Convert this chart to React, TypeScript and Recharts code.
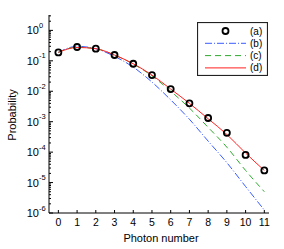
import React from 'react';
import { LineChart, Line, XAxis, YAxis, Legend, Label } from 'recharts';

// photon number distribution
const photonNumbers = [0, 1, 2, 3, 4, 5, 6, 7, 8, 9, 10, 11];
const seriesA = [0.189, 0.284, 0.25, 0.155, 0.08, 0.034, 0.0118, 0.004, 0.00132, 0.00043, 0.000081, 0.000025];
const seriesB = [0.19, 0.3, 0.25, 0.14, 0.062, 0.02, 0.0052, 0.0012, 0.00023, 0.000045, 0.0000074, 0.00000125];
const seriesC = [0.19, 0.28, 0.25, 0.155, 0.079, 0.032, 0.01, 0.0028, 0.00065, 0.000145, 0.000025, 0.000005];
const seriesD = [0.19, 0.275, 0.25, 0.155, 0.08, 0.034, 0.0118, 0.004, 0.00125, 0.00038, 0.000093, 0.000025];

const xTicks = [0, 1, 2, 3, 4, 5, 6, 7, 8, 9, 10, 11];
const decadeExponents = [-6, -5, -4, -3, -2, -1, 0];
const minorMultipliers = [2, 3, 4, 5, 6, 7, 8, 9];

const yTicks: number[] = [];
decadeExponents.forEach((e) => {
  yTicks.push(Math.pow(10, e));
  if (e < 0) minorMultipliers.forEach((m) => yTicks.push(m * Math.pow(10, e)));
});
yTicks.push(2, 3);

const data = photonNumbers.map((n, i) => ({
  n,
  a: seriesA[i],
  b: seriesB[i],
  c: seriesC[i],
  d: seriesD[i],
}));

const FONT = '"Liberation Sans", Arial, Helvetica, sans-serif';

const isDecade = (v: number) => Math.abs(Math.log10(v) - Math.round(Math.log10(v))) < 1e-9;

const LeftTick = (props: any) => {
  const { x, y, payload } = props;
  const v = payload.value;
  const major = isDecade(v);
  const exp = Math.round(Math.log10(v));
  return (
    <g>
      <line x1={x} x2={x + (major ? 4 : 2)} y1={y} y2={y} stroke="#000" strokeWidth={1} />
      {major && (
        <g>
          <text x={x - 10} y={y + 4} textAnchor="end" fontSize={11} fontFamily={FONT} fill="#000">10</text>
          <text x={x - 10} y={y - 2.5} textAnchor="start" fontSize={7.5} fontFamily={FONT} fill="#000">{exp}</text>
        </g>
      )}
    </g>
  );
};

const RightTick = (props: any) => {
  const { x, y, payload } = props;
  const major = isDecade(payload.value);
  return <line x1={x} x2={x - (major ? 4 : 2)} y1={y} y2={y} stroke="#000" strokeWidth={1} />;
};

const BottomTick = (props: any) => {
  const { x, y, payload } = props;
  return (
    <g>
      <line x1={x} x2={x} y1={y} y2={y - 3} stroke="#000" strokeWidth={1} />
      <text x={x} y={y + 12.5} textAnchor="middle" fontSize={10.5} fontFamily={FONT} fill="#000">{payload.value}</text>
    </g>
  );
};

const TopTick = (props: any) => {
  const { x, y } = props;
  return <line x1={x} x2={x} y1={y} y2={y + 3} stroke="#000" strokeWidth={1} />;
};

const LegendBox = (props: any) => {
  const items = props.payload || [];
  return (
    <svg width={71} height={54} style={{ display: 'block' }}>
      <rect x={0.5} y={0.5} width={70} height={53} fill="#fff" stroke="#222" strokeWidth={1.2} />
      {items.map((it: any, i: number) => {
        const cy = 9 + i * 12.3;
        const p = it.payload || {};
        return (
          <g key={i}>
            {p.stroke === 'none' ? (
              <circle cx={28.5} cy={cy} r={3} fill="none" stroke="#000" strokeWidth={1.8} />
            ) : (
              <line x1={8} x2={49} y1={cy} y2={cy} stroke={p.stroke} strokeWidth={1} strokeDasharray={p.strokeDasharray} />
            )}
            <text x={53} y={cy + 3.5} fontSize={10} fontFamily={FONT} fill="#000">{it.value}</text>
          </g>
        );
      })}
    </svg>
  );
};

export default function App() {
  return (
    <div style={{ position: 'absolute', left: 0, top: 0, width: 284, height: 249, background: '#fff' }}>
      <LineChart width={284} height={249} data={data} margin={{ top: 15, right: 15, bottom: 0, left: 0 }}>
        <XAxis
          dataKey="n"
          type="number"
          domain={[-0.5, 11.25]}
          ticks={xTicks}
          interval={0}
          allowDataOverflow
          height={36}
          tickSize={0}
          tickMargin={0}
          tickLine={false}
          axisLine={{ stroke: '#000', strokeWidth: 1 }}
          tick={<BottomTick />}
        >
          <Label
            content={(p: any) => {
              const vb = p.viewBox;
              return (
                <text x={vb.x + vb.width / 2 + 2} y={242} textAnchor="middle" fontSize={11} fontFamily={FONT} fill="#000">
                  Photon number
                </text>
              );
            }}
          />
        </XAxis>
        <XAxis
          xAxisId="top"
          orientation="top"
          dataKey="n"
          type="number"
          domain={[-0.5, 11.25]}
          ticks={xTicks}
          interval={0}
          allowDataOverflow
          height={0}
          tickSize={0}
          tickMargin={0}
          tickLine={false}
          axisLine={{ stroke: '#000', strokeWidth: 1 }}
          tick={<TopTick />}
        />
        <YAxis
          scale="log"
          type="number"
          domain={[1e-6, 3.2]}
          ticks={yTicks}
          interval={0}
          allowDataOverflow
          width={49}
          tickSize={0}
          tickMargin={0}
          tickLine={false}
          axisLine={{ stroke: '#000', strokeWidth: 1 }}
          tick={<LeftTick />}
        >
          <Label
            content={(p: any) => {
              const vb = p.viewBox;
              const cx = 12;
              const cy = vb.y + vb.height / 2 + 1;
              return (
                <text
                  x={cx}
                  y={cy}
                  dy="0.35em"
                  transform={`rotate(-90 ${cx} ${cy})`}
                  textAnchor="middle"
                  fontSize={11}
                  fontFamily={FONT}
                  fill="#000"
                >
                  Probability
                </text>
              );
            }}
          />
        </YAxis>
        <YAxis
          yAxisId="right"
          orientation="right"
          scale="log"
          type="number"
          domain={[1e-6, 3.2]}
          ticks={yTicks}
          interval={0}
          allowDataOverflow
          width={0}
          tickSize={0}
          tickMargin={0}
          tickLine={false}
          axisLine={{ stroke: '#000', strokeWidth: 1 }}
          tick={<RightTick />}
        />
        <Legend
          layout="vertical"
          align="center"
          verticalAlign="middle"
          wrapperStyle={{ top: 22, left: 197, width: 71, height: 54 }}
          content={<LegendBox />}
        />
        <Line
          dataKey="a"
          name="(a)"
          stroke="none"
          isAnimationActive={false}
          dot={{ r: 3, fill: 'none', stroke: '#000', strokeWidth: 1.8 }}
          activeDot={false}
        />
        <Line
          dataKey="b"
          name="(b)"
          type="monotone"
          stroke="#3a5cff"
          strokeWidth={1}
          strokeDasharray="7 2 1 2"
          dot={false}
          isAnimationActive={false}
        />
        <Line
          dataKey="c"
          name="(c)"
          type="monotone"
          stroke="#2eaa2e"
          strokeWidth={1}
          strokeDasharray="6 4"
          dot={false}
          isAnimationActive={false}
        />
        <Line
          dataKey="d"
          name="(d)"
          type="monotone"
          stroke="#ff2020"
          strokeWidth={1}
          dot={false}
          isAnimationActive={false}
        />
      </LineChart>
    </div>
  );
}
